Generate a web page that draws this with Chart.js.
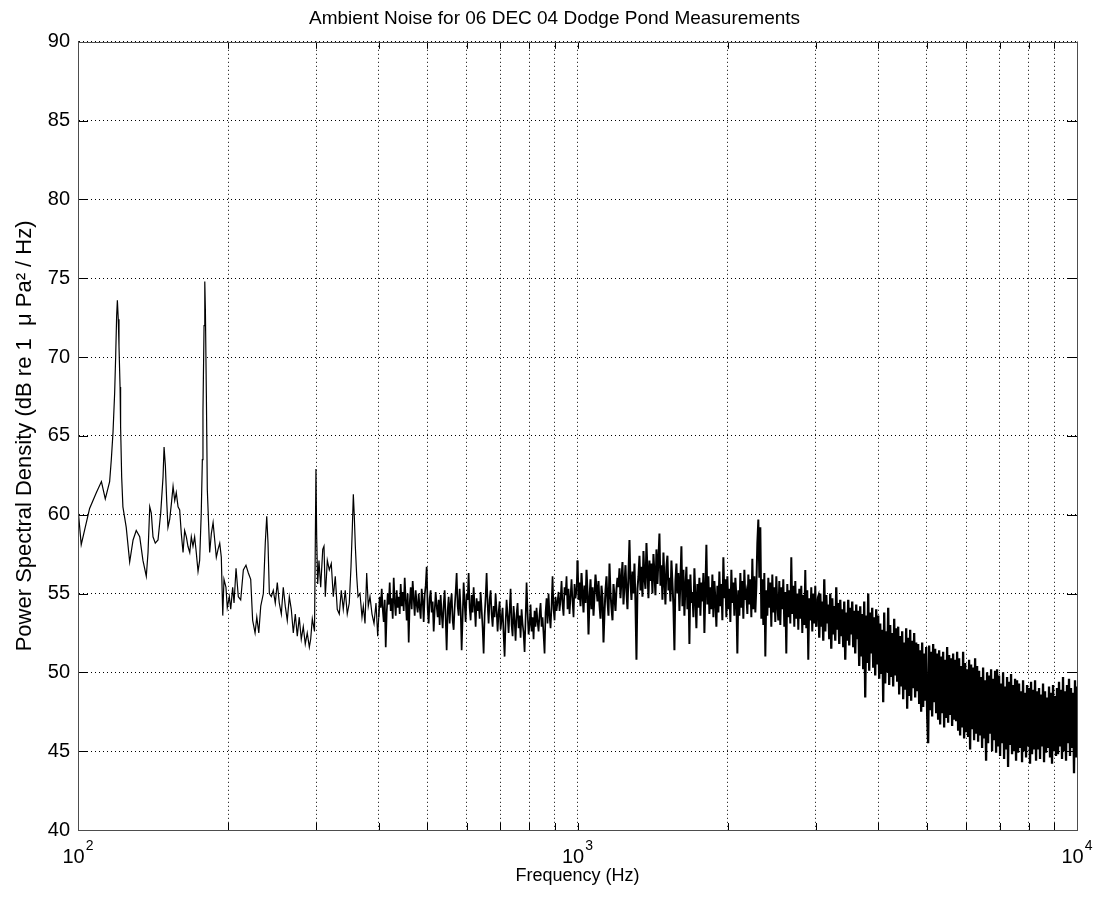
<!DOCTYPE html>
<html>
<head>
<meta charset="utf-8">
<script src="https://cdn.jsdelivr.net/npm/chart.js@4.4.0/dist/chart.umd.min.js"></script>
<style>
  body { margin: 0; background: #fff; }
</style>
</head>
<body>
<canvas id="psd-chart" width="1104" height="902"></canvas>
<script>
// 100 - 400 Hz (Hz / dB)
const lowHz = [
  100, 101.5, 105.5, 108.8, 111.4, 113.4, 115.7, 116.6, 117.5, 118.4,
  119.0, 119.5, 119.9, 120.4, 120.8, 121.4, 121.7, 122.3, 123.0, 124.9,
  126.9, 128.9, 130.8, 132.9, 134.9, 137.0, 138.1, 139.2, 140.2, 141.3,
  142.8, 144.6, 146.4, 148.0, 148.7, 149.6, 150.5, 151.4, 152.6, 153.8,
  155.0, 156.2, 157.3, 158.6, 159.8, 161.0, 162.3, 163.5, 164.8, 166.0,
  167.4, 168.6, 169.9, 171.2, 172.5, 173.9, 175.2, 176.5, 177.4, 177.9,
  178.8, 179.4, 179.9, 180.7, 181.5, 182.7, 183.5, 184.9, 186.4, 187.8,
  189.2, 190.7, 192.2, 193.6, 194.9, 196.0, 197.8, 199.0, 200.9, 202.2,
  204.0, 205.3, 207.2, 209.4, 211.7, 214.3, 216.9, 219.3, 221.7, 223.7,
  226.2, 228.0, 230.1, 232.2, 235.0, 237.1, 238.7, 240.1, 241.6, 243.8,
  246.0, 248.3, 250.6, 252.9, 255.3, 257.6, 260.0, 262.4, 264.9, 267.3,
  269.8, 272.3, 274.8, 277.3, 279.9, 282.5, 285.1, 287.7, 290.5, 292.3,
  294.5, 297.5, 299.5, 300.5, 301.9, 303.7, 306.1, 309.0, 310.8, 312.7,
  315.6, 318.5, 321.4, 324.4, 327.4, 330.4, 333.5, 336.6, 339.7, 342.8,
  346.0, 349.2, 352.0, 354.2, 355.8, 357.4, 359.1, 361.4, 363.6, 366.9,
  370.3, 372.6, 375.5, 378.4, 381.2, 384.2, 387.8, 391.4, 395.0, 398.1
];
const lowDb = [
  60.4, 58.1, 60.4, 61.4, 62.1, 61.0, 62.1, 63.5, 65.2, 67.7,
  70.2, 72.6, 73.6, 72.4, 70.7, 68.1, 65.6, 62.4, 60.5, 59.2,
  57.0, 58.4, 59.0, 58.6, 57.1, 56.1, 57.6, 60.5, 60.1, 58.6,
  58.2, 58.4, 60.1, 62.4, 64.3, 63.1, 60.9, 59.2, 59.7, 60.7,
  61.8, 60.9, 61.4, 60.5, 60.3, 58.8, 57.6, 59.0, 58.6, 58.0,
  57.6, 58.6, 58.0, 58.6, 57.6, 56.4, 57.1, 60.1, 63.5, 66.6,
  72.0, 74.8, 73.0, 67.7, 61.6, 59.2, 57.6, 58.8, 59.5, 58.4,
  57.3, 57.8, 58.2, 57.3, 53.6, 55.9, 55.4, 54.1, 54.8, 54.0,
  55.4, 54.4, 56.6, 54.8, 54.6, 56.5, 56.8, 56.3, 55.9, 53.3,
  52.5, 53.5, 52.5, 54.2, 55.0, 58.2, 59.9, 58.2, 55.0, 54.8,
  55.2, 54.4, 55.7, 54.4, 53.7, 55.4, 54.2, 53.3, 54.8, 54.0,
  52.5, 53.7, 52.3, 53.5, 52.1, 52.9, 51.8, 52.5, 51.6, 52.1,
  53.4, 52.6, 62.9, 58.6, 55.6, 57.1, 55.4, 57.8, 58.0, 54.8,
  57.1, 56.5, 56.9, 54.8, 56.1, 54.0, 53.7, 55.2, 54.0, 55.2,
  53.7, 54.4, 56.7, 59.2, 61.3, 59.9, 58.0, 56.1, 54.8, 55.0,
  53.5, 54.2, 53.1, 56.3, 54.2, 54.8, 53.7, 53.1, 54.4, 52.3
];

// 400 Hz - 10 kHz, one reading per screen pixel (log spaced bins)
const bandStartHz = 400;
const bandEndHz = 10000;
const bandDb = [
  53.5, 54.8, 54.1, 55.3, 54.0, 53.2, 54.6, 51.6, 53.8, 55.0, 54.3, 55.7, 53.9, 54.7, 53.4, 56.0, 54.5, 53.6, 55.2, 54.1,
  54.8, 53.7, 55.6, 54.2, 55.1, 53.9, 56.0, 54.6, 53.3, 55.0, 51.9, 54.4, 55.4, 54.0, 55.8, 54.7, 53.6, 55.2, 54.3, 53.8,
  55.0, 54.1, 53.4, 55.3, 54.6, 53.2, 54.9, 55.5, 56.7, 54.0, 53.1, 54.7, 55.2, 53.8, 54.5, 52.6, 53.9, 55.1, 54.2, 53.5,
  54.6, 53.0, 54.9, 53.7, 52.8, 54.3, 55.2, 53.4, 51.4, 53.9, 54.8, 53.1, 54.4, 55.0, 53.3, 52.7, 54.1, 55.1, 56.3, 54.2,
  53.6, 55.3, 54.0, 51.4, 53.5, 55.7, 54.4, 53.2, 55.0, 54.6, 56.3, 54.1, 53.3, 54.9, 53.8, 55.4, 54.2, 52.9, 54.7, 53.9,
  54.5, 53.4, 55.1, 54.0, 52.8, 51.2, 53.6, 54.8, 56.3, 54.3, 53.1, 54.6, 55.2, 53.7, 52.9, 54.2, 53.5, 55.0, 53.9, 52.6,
  53.8, 54.5, 52.7, 53.4, 54.1, 52.4, 51.0, 53.2, 54.6, 53.6, 52.5, 53.9, 55.3, 53.0, 52.3, 54.2, 53.3, 52.0, 53.7, 54.4,
  52.8, 53.6, 52.2, 54.0, 53.1, 52.5, 51.3, 53.4, 55.7, 53.8, 52.4, 53.0, 54.3, 52.6, 53.5, 52.1, 53.9, 52.9, 54.1, 53.2,
  52.6, 53.7, 54.4, 52.9, 53.5, 52.4, 51.2, 53.8, 54.7, 53.1, 55.0, 53.6, 52.8, 54.2, 56.1, 54.0, 53.3, 54.8, 53.9, 54.5,
  55.1, 53.9, 54.6, 55.8, 54.3, 53.6, 55.4, 54.9, 56.1, 54.0, 55.3, 53.7, 54.8, 55.9, 54.5, 53.5, 55.6, 54.7, 55.2, 57.1,
  54.6, 55.7, 54.2, 56.3, 55.0, 53.8, 55.5, 54.4, 56.5, 55.1, 52.4, 54.7, 55.9, 54.0, 55.4, 53.6, 54.9, 56.2, 55.3, 54.5,
  55.8, 54.3, 53.4, 55.5, 54.7, 51.9, 53.8, 55.2, 56.1, 54.5, 53.6, 56.9, 55.0, 54.1, 53.3, 55.6, 54.8, 53.9, 55.3, 56.0,
  55.4, 56.6, 54.7, 55.9, 57.0, 54.3, 55.6, 56.8, 55.1, 54.0, 56.2, 58.4, 55.7, 54.6, 56.4, 55.0, 56.9, 54.4, 50.8, 55.3,
  56.1, 57.4, 55.2, 56.7, 54.8, 57.7, 56.0, 55.3, 58.2, 56.5, 54.7, 57.1, 55.8, 56.9, 55.0, 57.5, 56.3, 54.9, 57.8, 55.6,
  57.2, 58.8, 55.5, 56.8, 54.6, 57.6, 55.9, 54.3, 56.7, 57.4, 55.2, 56.0, 54.5, 57.1, 55.7, 54.2, 51.4, 55.8, 56.9, 55.0,
  56.3, 53.9, 55.8, 58.0, 54.2, 56.5, 53.6, 55.4, 56.7, 54.0, 55.9, 51.8, 56.2, 54.4, 55.1, 53.5, 56.6, 54.7, 52.8, 55.6,
  54.1, 56.0, 53.6, 55.7, 54.5, 56.3, 52.5, 55.2, 58.1, 54.3, 56.1, 53.7, 55.4, 54.0, 56.2, 53.5, 55.8, 54.6, 52.9, 55.5,
  53.8, 56.4, 54.2, 55.6, 53.3, 57.3, 54.7, 55.9, 53.5, 56.1, 54.0, 55.3, 53.2, 56.5, 54.4, 55.7, 53.6, 56.0, 54.8, 51.2,
  55.2, 53.6, 56.3, 54.1, 55.8, 53.4, 56.5, 54.6, 55.0, 53.7, 56.2, 54.3, 55.9, 53.5, 57.2, 54.0, 56.1, 53.8, 55.4, 58.2,
  59.7, 56.0, 59.2, 53.4, 55.9, 53.0, 56.3, 51.0, 55.2, 53.6, 56.0, 54.1, 55.7, 52.9, 56.2, 53.8, 55.4, 53.2, 56.1, 54.3,
  53.3, 55.8, 53.0, 55.4, 54.0, 55.9, 52.9, 55.1, 51.2, 55.6, 53.5, 55.2, 53.1, 57.3, 53.7, 55.5, 52.9, 55.8, 53.4, 55.0,
  52.7, 55.3, 53.4, 55.5, 52.5, 54.9, 53.0, 56.5, 52.8, 55.2, 50.8, 54.7, 53.3, 55.4, 52.6, 55.0, 53.1, 55.5, 52.9, 54.6,
  54.8, 52.2, 55.0, 52.9, 54.5, 52.0, 55.9, 52.6, 54.9, 53.1, 54.3, 52.1, 55.0, 51.5, 54.7, 52.4, 54.2, 52.0, 55.4, 52.7,
  54.4, 51.8, 54.6, 52.3, 54.0, 51.6, 54.5, 50.8, 53.8, 52.0, 54.6, 51.7, 54.1, 52.4, 54.5, 51.6, 53.9, 51.2, 54.3, 52.1,
  53.9, 50.4, 54.2, 51.0, 53.7, 50.2, 54.5, 48.4, 53.6, 50.6, 55.0, 50.1, 53.8, 51.2, 54.1, 50.3, 53.5, 49.8, 54.0, 50.5,
  53.6, 49.6, 53.1, 49.9, 52.7, 48.1, 53.8, 49.3, 52.6, 50.0, 54.1, 49.2, 53.0, 49.7, 52.5, 49.1, 53.4, 49.8, 52.8, 49.4,
  52.9, 48.6, 52.3, 49.1, 52.6, 48.3, 51.9, 48.9, 52.8, 47.7, 52.2, 48.5, 52.7, 48.2, 52.0, 49.0, 52.5, 48.4, 51.9, 48.8,
  51.8, 48.0, 51.4, 47.5, 51.9, 47.8, 51.2, 48.2, 51.6, 47.3, 45.5, 51.7, 47.6, 51.3, 47.2, 51.8, 48.1, 51.5, 47.4, 51.2,
  47.0, 51.4, 46.7, 51.0, 47.4, 51.3, 46.5, 50.8, 47.1, 51.6, 46.8, 51.1, 47.3, 50.9, 46.6, 51.2, 47.0, 50.8, 46.9, 51.3,
  46.3, 50.9, 46.0, 50.4, 46.5, 51.3, 45.8, 50.6, 46.2, 50.2, 45.9, 50.8, 45.1, 50.5, 46.4, 50.3, 45.7, 50.9, 46.1, 50.4,
  45.6, 50.1, 46.0, 49.7, 45.2, 50.3, 45.8, 49.5, 44.4, 50.0, 45.5, 49.8, 46.1, 50.2, 45.0, 49.6, 45.7, 50.1, 44.9, 50.2,
  45.3, 49.8, 44.7, 49.3, 45.5, 50.0, 44.5, 49.1, 45.1, 49.7, 44.0, 49.4, 45.4, 49.9, 44.8, 49.2, 45.0, 49.6, 44.4, 49.5,
  44.9, 49.3, 45.2, 48.8, 44.3, 49.5, 45.0, 48.7, 44.6, 49.2, 45.3, 49.0, 44.2, 49.4, 44.8, 48.9, 45.1, 49.5, 44.4, 48.8,
  45.1, 49.0, 44.5, 48.6, 45.3, 49.3, 44.3, 48.8, 44.9, 48.4, 45.2, 49.1, 44.6, 48.7, 44.2, 49.2, 45.0, 48.5, 44.7, 49.0,
  44.8, 49.4, 45.3, 48.9, 44.5, 49.7, 45.0, 48.8, 44.4, 49.2, 45.5, 49.6, 44.7, 49.0, 45.2, 48.7, 43.6, 49.5, 44.6, 49.1
];

// axis ticks / grid
const gridHz = [100, 200, 300, 400, 500, 600, 700, 800, 900,
                1000, 2000, 3000, 4000, 5000, 6000, 7000, 8000, 9000, 10000];
const decadeHz = [100, 1000, 10000];
const decadeExp = ['2', '3', '4'];

const FONT = '"Liberation Sans", Arial, Helvetica, sans-serif';

const bandHz = bandDb.map((_, i) =>
  bandStartHz * Math.pow(bandEndHz / bandStartHz, i / (bandDb.length - 1)));

const points = lowHz.map((f, i) => ({ x: f, y: lowDb[i] }))
  .concat(bandHz.map((f, i) => ({ x: f, y: bandDb[i] })));

// box, inward tick marks and 10^n labels like the matlab axes
const matlabAxes = {
  id: 'matlabAxes',
  afterDraw(chart) {
    const { ctx, chartArea: a, scales: { x, y } } = chart;
    ctx.save();
    ctx.strokeStyle = '#000';
    ctx.lineWidth = 1;
    ctx.beginPath();
    gridHz.forEach(v => {
      const px = Math.round(x.getPixelForValue(v)) + 0.5;
      ctx.moveTo(px, a.bottom); ctx.lineTo(px, a.bottom - 7);
      ctx.moveTo(px, a.top); ctx.lineTo(px, a.top + 7);
    });
    y.ticks.forEach(t => {
      const py = Math.round(y.getPixelForValue(t.value)) + 0.5;
      ctx.moveTo(a.left, py); ctx.lineTo(a.left + 10, py);
      ctx.moveTo(a.right, py); ctx.lineTo(a.right - 10, py);
    });
    ctx.stroke();

    ctx.strokeStyle = '#4d4d4d';
    ctx.strokeRect(Math.round(a.left) + 0.5, Math.round(a.top) + 0.5,
                   Math.round(a.right - a.left), Math.round(a.bottom - a.top));

    ctx.fillStyle = '#000';
    ctx.textAlign = 'left';
    ctx.textBaseline = 'alphabetic';
    decadeHz.forEach((v, i) => {
      const px = x.getPixelForValue(v);
      ctx.font = '20px ' + FONT;
      const wBase = ctx.measureText('10').width;
      ctx.font = '14px ' + FONT;
      const wExp = ctx.measureText(decadeExp[i]).width;
      const left = px - (wBase + wExp + 1) / 2;
      ctx.font = '20px ' + FONT;
      ctx.fillText('10', left, a.bottom + 33);
      ctx.font = '14px ' + FONT;
      ctx.fillText(decadeExp[i], left + wBase + 1, a.bottom + 20);
    });
    ctx.restore();
  }
};

new Chart(document.getElementById('psd-chart'), {
  type: 'line',
  data: {
    datasets: [{
      data: points,
      borderColor: '#000',
      borderWidth: 1.2,
      pointRadius: 0,
      tension: 0,
      fill: false,
      // the trace gets denser (darker) towards high frequency
      segment: {
        borderWidth: c => {
          const f = c.p0.parsed.x;
          return f < 400 ? 1.2 : f < 1000 ? 1.7 : f < 3000 ? 2.0 : 2.3;
        }
      }
    }]
  },
  options: {
    responsive: false,
    animation: false,
    events: [],
    layout: { padding: { left: 32, right: 27, top: 0, bottom: 0 } },
    plugins: {
      legend: { display: false },
      tooltip: { enabled: false },
      title: {
        display: true,
        text: 'Ambient Noise for 06 DEC 04 Dodge Pond Measurements',
        color: '#000',
        font: { family: FONT, size: 19, weight: 'normal' },
        padding: { top: 7, bottom: 12 }
      }
    },
    scales: {
      x: {
        type: 'logarithmic',
        min: 100,
        max: 10000,
        afterBuildTicks: s => { s.ticks = gridHz.map(v => ({ value: v })); },
        afterFit: s => { s.height = 72; },
        ticks: { display: false, autoSkip: false },
        grid: { color: '#000', drawTicks: false, lineWidth: 1 },
        border: { display: true, color: '#4d4d4d', dash: [1, 3] },
        title: {
          display: true,
          text: 'Frequency (Hz)',
          color: '#000',
          font: { family: FONT, size: 18 },
          padding: { top: 0, bottom: 15 }
        }
      },
      y: {
        min: 40,
        max: 90,
        afterFit: s => { s.width = 46; },
        ticks: {
          stepSize: 5,
          color: '#000',
          padding: 8,
          font: { family: FONT, size: 20 }
        },
        grid: { color: '#000', drawTicks: false, lineWidth: 1 },
        border: { display: true, color: '#4d4d4d', dash: [1, 3] },
        title: {
          display: true,
          text: 'Power Spectral Density (dB re 1  \u03bc Pa\u00b2 / Hz)',
          color: '#000',
          font: { family: FONT, size: 22 },
          padding: { top: -20, bottom: 0 }
        }
      }
    }
  },
  plugins: [matlabAxes]
});
</script>
</body>
</html>
